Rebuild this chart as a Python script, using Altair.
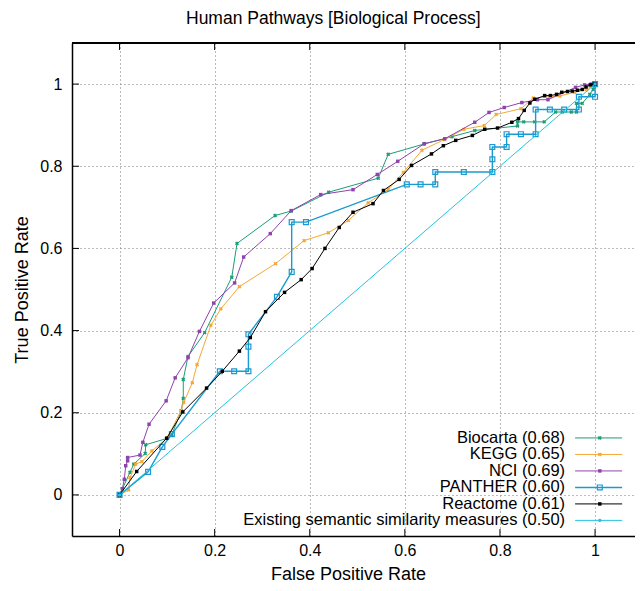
import altair as alt
import pandas as pd

# ---------------- data ----------------
series = ["Biocarta (0.68)", "KEGG (0.65)", "NCI (0.69)", "PANTHER (0.60)",
          "Reactome (0.61)", "Existing semantic similarity measures (0.50)"]
colors = ["#1a9e77", "#f7a833", "#8e44ad", "#1a9ad0", "#000000", "#22c3e2"]

biocarta_x = [0, 0.022, 0.030, 0.054, 0.055, 0.101, 0.110, 0.130, 0.134, 0.134, 0.144, 0.179,
              0.236, 0.247, 0.327, 0.361, 0.440, 0.544, 0.565, 0.640, 0.699, 0.747, 0.837,
              0.837, 0.850, 0.873, 0.893, 0.917, 0.931, 0.950, 0.961, 0.961, 0.973, 0.989,
              0.996, 1.0]
biocarta_y = [0, 0.055, 0.075, 0.101, 0.122, 0.138, 0.147, 0.205, 0.235, 0.281, 0.337, 0.395,
              0.530, 0.612, 0.680, 0.691, 0.737, 0.771, 0.829, 0.854, 0.872, 0.887, 0.898,
              0.908, 0.908, 0.908, 0.908, 0.932, 0.932, 0.932, 0.932, 0.953, 0.953, 0.975,
              0.987, 1.0]

kegg_x = [0, 0.019, 0.022, 0.034, 0.047, 0.068, 0.101, 0.129, 0.135, 0.153, 0.163, 0.192,
          0.213, 0.252, 0.328, 0.388, 0.439, 0.481, 0.523, 0.565, 0.597, 0.636, 0.683,
          0.724, 0.767, 0.792, 0.844, 0.870, 0.926, 0.957, 0.982, 0.992, 1.0]
kegg_y = [0, 0.012, 0.042, 0.075, 0.081, 0.107, 0.139, 0.205, 0.225, 0.273, 0.317, 0.413,
          0.453, 0.507, 0.563, 0.619, 0.638, 0.668, 0.711, 0.744, 0.785, 0.839, 0.865,
          0.890, 0.899, 0.926, 0.940, 0.966, 0.971, 0.980, 0.987, 0.995, 1.0]

nci_x = [0, 0.006, 0.010, 0.013, 0.017, 0.017, 0.043, 0.049, 0.062, 0.098, 0.117, 0.144,
         0.168, 0.198, 0.242, 0.261, 0.317, 0.361, 0.423, 0.491, 0.542, 0.585, 0.641,
         0.684, 0.747, 0.777, 0.809, 0.846, 0.879, 0.901, 0.959, 0.978, 0.992, 1.0]
nci_y = [0, 0.015, 0.038, 0.071, 0.083, 0.091, 0.097, 0.128, 0.172, 0.229, 0.285, 0.334,
         0.398, 0.467, 0.516, 0.579, 0.636, 0.692, 0.731, 0.743, 0.780, 0.812, 0.855,
         0.867, 0.907, 0.931, 0.943, 0.955, 0.962, 0.962, 0.992, 0.998, 1.0, 1.0]

panther_x = [0, 0.060, 0.090, 0.110, 0.211, 0.241, 0.271, 0.271, 0.271, 0.331, 0.362, 0.362,
             0.392, 0.604, 0.633, 0.664, 0.664, 0.724, 0.784, 0.784, 0.784, 0.814, 0.814,
             0.844, 0.875, 0.875, 0.905, 0.935, 0.966, 0.966, 1.0, 1.0]
panther_y = [0, 0.056, 0.117, 0.148, 0.301, 0.301, 0.301, 0.361, 0.391, 0.482, 0.543, 0.664,
             0.664, 0.756, 0.756, 0.756, 0.786, 0.786, 0.786, 0.817, 0.847, 0.847, 0.878,
             0.878, 0.878, 0.938, 0.938, 0.938, 0.938, 0.969, 0.969, 1.0]

reactome_x = [0, 0.036, 0.099, 0.133, 0.183, 0.216, 0.252, 0.275, 0.307, 0.347, 0.382, 0.405,
              0.432, 0.462, 0.491, 0.533, 0.555, 0.588, 0.614, 0.656, 0.681, 0.707, 0.742,
              0.768, 0.795, 0.825, 0.839, 0.851, 0.863, 0.873, 0.894, 0.906, 0.919, 0.930,
              0.942, 0.952, 0.963, 0.973, 0.981, 0.990, 0.998, 1.0]
reactome_y = [0, 0.057, 0.138, 0.202, 0.260, 0.301, 0.350, 0.383, 0.446, 0.493, 0.524, 0.551,
              0.600, 0.651, 0.688, 0.709, 0.741, 0.768, 0.802, 0.830, 0.850, 0.863, 0.875,
              0.890, 0.893, 0.907, 0.916, 0.936, 0.954, 0.963, 0.972, 0.972, 0.975, 0.980,
              0.982, 0.983, 0.985, 0.987, 0.993, 0.998, 1.0, 1.0]

existing_x = [0, 1.0]
existing_y = [0, 1.0]

xs = [biocarta_x, kegg_x, nci_x, panther_x, reactome_x, existing_x]
ys = [biocarta_y, kegg_y, nci_y, panther_y, reactome_y, existing_y]

tick_values = [0, 0.2, 0.4, 0.6, 0.8, 1.0]

# marker styles per series (shape, angle, size, filled, line width)
marker_shape = ["cross", "cross", "square", "square", "square", "circle"]
marker_angle = [45, 45, 0, 0, 0, 0]
marker_size = [16, 16, 12, 24, 12, 12]
marker_filled = [True, True, True, False, True, True]
line_width = [1, 1, 1, 1.4, 1, 1]

# legend placement (data units, bottom-right inside the plot)
legend_text_x = 0.937
legend_line_x1 = 0.958
legend_line_x2 = 1.057
legend_mark_x = 1.010
legend_rows_y = [0.1387, 0.0985, 0.0584, 0.0182, -0.0219, -0.0620]

# ---------------- chart ----------------
# the plot box is cut at the right window edge, as in the reference
W, H = 563, 493
FONT = "Liberation Sans"
xscale = alt.Scale(domain=[-0.1, 1.084], nice=False, zero=False)
yscale = alt.Scale(domain=[-0.1, 1.1], nice=False, zero=False)

xaxis = alt.Axis(values=tick_values, format="~g", grid=True, gridColor="#777777",
                 gridDash=[1, 3], gridWidth=1, ticks=False, labelPadding=6,
                 labelFont=FONT, labelFontSize=16, labelColor="black",
                 domainColor="black", domainWidth=1.5,
                 title="False Positive Rate", titleFont=FONT, titleFontSize=18,
                 titleFontWeight="normal", titleColor="black",
                 titleX=276, titleY=43, titleBaseline="alphabetic")
yaxis = alt.Axis(values=tick_values, format="~g", grid=True, gridColor="#777777",
                 gridDash=[1, 3], gridWidth=1, ticks=False, labelPadding=10,
                 labelFont=FONT, labelFontSize=16, labelColor="black",
                 domainColor="black", domainWidth=1.5,
                 title="True Positive Rate", titleFont=FONT, titleFontSize=18,
                 titleFontWeight="normal", titleColor="black",
                 titleX=-50, titleY=H / 2, titleBaseline="middle", titleAngle=-90)

rows = []
for s, sx, sy in zip(series, xs, ys):
    for i, (a, b) in enumerate(zip(sx, sy)):
        rows.append({"series": s, "i": i, "x": a, "y": b})
df = pd.DataFrame(rows)

layers = []
# axis/grid carrier layer
base = alt.Chart(df).mark_point(opacity=0).encode(
    x=alt.X("x:Q", scale=xscale, axis=xaxis),
    y=alt.Y("y:Q", scale=yscale, axis=yaxis),
)
layers.append(base)

# inward ticks and top border
ticks_df = pd.DataFrame({"t": tick_values})
layers.append(alt.Chart(ticks_df).mark_rule(color="black", strokeWidth=1).encode(
    x=alt.X("t:Q", scale=xscale), y=alt.value(H), y2=alt.value(H - 7)))
layers.append(alt.Chart(ticks_df).mark_rule(color="black", strokeWidth=1).encode(
    x=alt.X("t:Q", scale=xscale), y=alt.value(0), y2=alt.value(7)))
layers.append(alt.Chart(ticks_df).mark_rule(color="black", strokeWidth=1).encode(
    y=alt.Y("t:Q", scale=yscale), x=alt.value(0), x2=alt.value(7)))
layers.append(alt.Chart(ticks_df).mark_rule(color="black", strokeWidth=1.5).encode(
    x=alt.value(0), x2=alt.value(W), y=alt.value(0)))

for k, s in enumerate(series):
    d = df[df.series == s]
    line = alt.Chart(d).mark_line(strokeWidth=line_width[k], color=colors[k]).encode(
        x=alt.X("x:Q", scale=xscale), y=alt.Y("y:Q", scale=yscale), order="i:Q")
    pts = alt.Chart(d).mark_point(shape=marker_shape[k], angle=marker_angle[k],
                                  size=marker_size[k], filled=marker_filled[k],
                                  color=colors[k], opacity=1,
                                  strokeWidth=1.2).encode(
        x=alt.X("x:Q", scale=xscale), y=alt.Y("y:Q", scale=yscale))
    layers += [line, pts]

# manual legend
leg = pd.DataFrame({"series": series, "ly": legend_rows_y,
                    "tx": [legend_text_x] * 6, "x1": [legend_line_x1] * 6,
                    "x2": [legend_line_x2] * 6, "mx": [legend_mark_x] * 6})
layers.append(alt.Chart(leg).mark_text(align="right", baseline="middle", font=FONT,
                                      fontSize=16.5, color="black").encode(
    x=alt.X("tx:Q", scale=xscale), y=alt.Y("ly:Q", scale=yscale), text="series:N"))
for k, s in enumerate(series):
    dl = leg[leg.series == s]
    layers.append(alt.Chart(dl).mark_rule(strokeWidth=line_width[k], color=colors[k]).encode(
        x=alt.X("x1:Q", scale=xscale), x2="x2:Q", y=alt.Y("ly:Q", scale=yscale)))
    layers.append(alt.Chart(dl).mark_point(shape=marker_shape[k], angle=marker_angle[k],
                                           size=marker_size[k], filled=marker_filled[k],
                                           color=colors[k], opacity=1, strokeWidth=1.2).encode(
        x=alt.X("mx:Q", scale=xscale), y=alt.Y("ly:Q", scale=yscale)))

chart = alt.layer(*layers).properties(
    width=W, height=H,
    title=alt.TitleParams("Human Pathways [Biological Process]", font=FONT, fontSize=17.5,
                          fontWeight="normal", color="black", anchor="start",
                          frame="group", dx=114, offset=15),
    autosize=alt.AutoSizeParams(type="none"),
    padding={"left": 64, "top": 35, "right": 0, "bottom": 47},
).configure_view(stroke=None).configure(background="white")

chart.save("out.html", embed_options={"renderer": "svg", "actions": False})
